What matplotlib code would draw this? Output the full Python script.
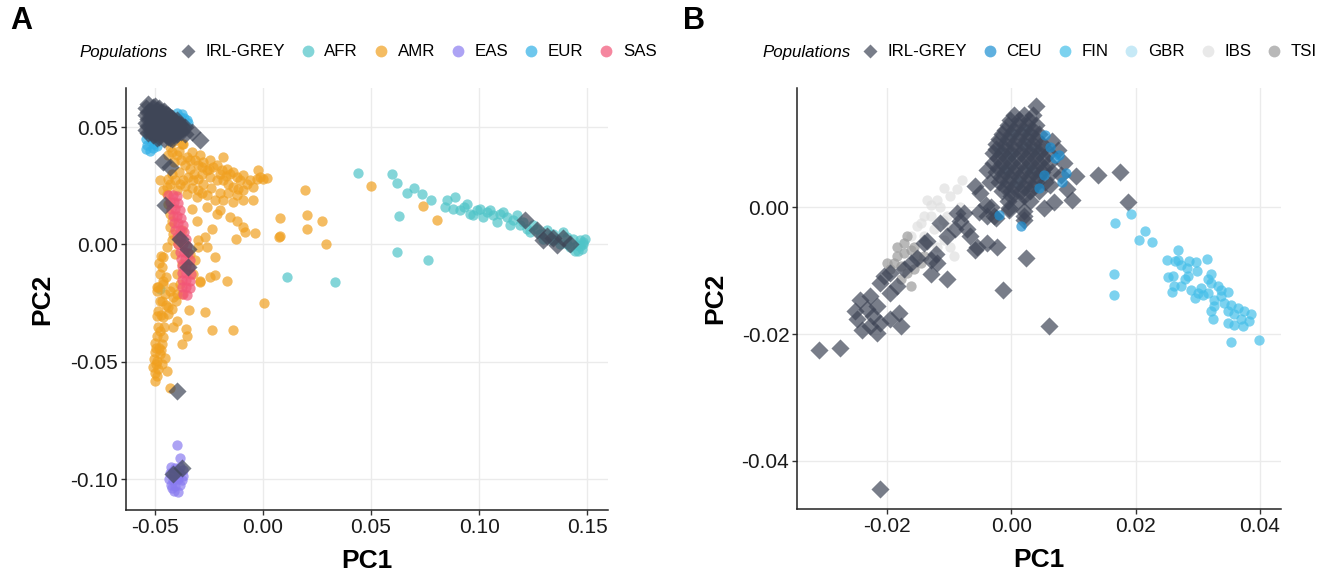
import numpy as np
import matplotlib
matplotlib.use("Agg")
import matplotlib.pyplot as plt
from matplotlib.lines import Line2D

plt.rcParams['font.family'] = ['Liberation Sans', 'DejaVu Sans']
plt.rcParams['axes.unicode_minus'] = False

# ---- panel A: 1000 Genomes super-populations ----
a_afr = [(0.0440, 0.0305), (0.0596, 0.0299), (0.0620, 0.0260), (0.0665, 0.0221), (0.0700, 0.0242),
         (0.0738, 0.0217), (0.0778, 0.0188), (0.0630, 0.0121), (0.0622, -0.0030), (0.0765, -0.0065),
         (0.0113, -0.0140), (0.0333, -0.0161), (-0.0477, -0.0188),
         (0.0850, 0.0188), (0.0888, 0.0202), (0.0843, 0.0160), (0.0881, 0.0153), (0.0912, 0.0145),
         (0.0943, 0.0174), (0.0974, 0.0124), (0.1004, 0.0153), (0.1035, 0.0138), (0.1066, 0.0124),
         (0.1097, 0.0131), (0.1082, 0.0095), (0.1128, 0.0117), (0.1159, 0.0103), (0.1143, 0.0081),
         (0.1190, 0.0081), (0.1220, 0.0067), (0.1251, 0.0081), (0.1282, 0.0046), (0.1313, 0.0060),
         (0.1344, 0.0046), (0.1390, 0.0053), (0.1406, 0.0031), (0.1437, 0.0024), (0.1468, 0.0017),
         (0.1483, 0.0003), (0.1476, -0.0019), (0.1452, -0.0003), (0.1421, -0.0011), (0.1375, 0.0003),
         (0.1336, 0.0017), (0.1298, 0.0024), (0.1491, 0.0024), (0.1460, -0.0026), (0.1020, 0.0117),
         (0.1051, 0.0145), (0.1113, 0.0138), (0.0989, 0.0145), (0.0958, 0.0131), (0.0928, 0.0160),
         (0.1174, 0.0124), (0.1205, 0.0095), (0.1236, 0.0053), (0.1267, 0.0067), (0.1359, 0.0024),
         (0.1445, -0.0026), (0.1406, 0.0003), (0.1480, 0.0010), (0.1465, -0.0005)]

a_amr = [(-0.0431, 0.0416), (-0.0423, 0.0395), (-0.0369, 0.0430), (-0.0353, 0.0373), (-0.0330, 0.0395),
         (-0.0315, 0.0359), (-0.0292, 0.0380), (-0.0276, 0.0352), (-0.0245, 0.0359), (-0.0230, 0.0330),
         (-0.0261, 0.0316), (-0.0214, 0.0338), (-0.0184, 0.0373), (-0.0191, 0.0316), (-0.0168, 0.0323),
         (-0.0153, 0.0302), (-0.0137, 0.0309), (-0.0122, 0.0288), (-0.0106, 0.0274), (-0.0091, 0.0295),
         (-0.0075, 0.0259), (-0.0060, 0.0274), (-0.0045, 0.0245), (-0.0029, 0.0281), (-0.0014, 0.0288),
         (0.0002, 0.0281), (0.0017, 0.0285), (-0.0022, 0.0316), (-0.0245, 0.0288), (-0.0214, 0.0274),
         (-0.0184, 0.0274), (-0.0161, 0.0259), (-0.0137, 0.0245), (-0.0114, 0.0238), (-0.0091, 0.0231),
         (-0.0276, 0.0259), (-0.0299, 0.0231), (-0.0322, 0.0274), (-0.0346, 0.0288), (-0.0369, 0.0274),
         (-0.0384, 0.0259), (-0.0407, 0.0274), (-0.0431, 0.0259), (-0.0446, 0.0245), (-0.0400, 0.0231),
         (-0.0353, 0.0216), (-0.0307, 0.0202), (-0.0261, 0.0209), (-0.0222, 0.0188), (-0.0184, 0.0188),
         (-0.0137, 0.0181), (-0.0091, 0.0188), (-0.0045, 0.0188), (-0.0261, 0.0159), (-0.0199, 0.0145),
         (-0.0153, 0.0117), (-0.0122, 0.0102), (-0.0091, 0.0074), (-0.0083, 0.0053), (-0.0037, 0.0048),
         (-0.0214, 0.0131), (-0.0330, 0.0152), (-0.0307, 0.0102), (-0.0238, 0.0067), (-0.0268, 0.0031),
         (-0.0299, 0.0017), (-0.0261, -0.0011), (-0.0222, -0.0054), (-0.0299, -0.0011), (-0.0315, -0.0068),
         (-0.0338, -0.0040), (-0.0322, -0.0125), (-0.0292, -0.0154), (-0.0245, -0.0140), (-0.0222, -0.0132),
         (-0.0165, -0.0157), (0.0079, 0.0112), (0.0202, 0.0124), (0.0202, 0.0067), (0.0275, 0.0102),
         (0.0290, 0.0003), (0.0076, 0.0034), (0.0194, 0.0234), (0.0500, 0.0248), (0.0005, -0.0251),
         (-0.0125, 0.0023), (0.0742, 0.0162), (0.0807, 0.0105), (0.0079, 0.0038), (-0.0376, 0.0430),
         (-0.0400, 0.0380), (-0.0380, 0.0360), (-0.0360, 0.0340), (-0.0340, 0.0320), (-0.0320, 0.0300),
         (-0.0300, 0.0280), (-0.0280, 0.0300), (-0.0300, 0.0340), (-0.0340, 0.0360), (-0.0280, 0.0330),
         (-0.0250, 0.0320), (-0.0200, 0.0300), (-0.0170, 0.0290), (-0.0410, 0.0350), (-0.0390, 0.0310),
         (-0.0420, 0.0300), (-0.0440, 0.0280), (-0.0360, 0.0250), (-0.0330, 0.0240), (-0.0280, 0.0220),
         (-0.0240, 0.0240), (-0.0200, 0.0220), (-0.0160, 0.0220), (-0.0120, 0.0210), (-0.0440, 0.0380),
         (-0.0410, 0.0440), (-0.0390, 0.0400),
         (-0.0477, 0.0274), (-0.0461, 0.0231), (-0.0446, 0.0216), (-0.0438, 0.0174), (-0.0431, 0.0131),
         (-0.0423, 0.0102), (-0.0431, 0.0074), (-0.0415, 0.0046), (-0.0423, 0.0017), (-0.0446, -0.0011),
         (-0.0461, -0.0054), (-0.0469, -0.0097), (-0.0477, -0.0125), (-0.0461, -0.0154), (-0.0484, -0.0182),
         (-0.0454, -0.0211), (-0.0477, -0.0239), (-0.0438, -0.0268), (-0.0400, -0.0211), (-0.0384, -0.0168),
         (-0.0415, -0.0182), (-0.0400, -0.0125), (-0.0376, -0.0082), (-0.0407, -0.0040), (-0.0392, 0.0003),
         (-0.0376, 0.0060), (-0.0492, -0.0182), (-0.0461, -0.0168), (-0.0431, -0.0197), (-0.0415, -0.0225),
         (-0.0469, -0.0239), (-0.0484, -0.0282), (-0.0461, -0.0311), (-0.0492, -0.0304), (-0.0438, -0.0296),
         (-0.0423, -0.0275), (-0.0400, -0.0325), (-0.0415, -0.0353), (-0.0477, -0.0368), (-0.0461, -0.0396),
         (-0.0492, -0.0389), (-0.0469, -0.0425), (-0.0500, -0.0460), (-0.0477, -0.0467), (-0.0492, -0.0496),
         (-0.0508, -0.0524), (-0.0484, -0.0531), (-0.0469, -0.0510), (-0.0454, -0.0482), (-0.0446, -0.0539),
         (-0.0500, -0.0581), (-0.0431, -0.0610), (-0.0357, -0.0360), (-0.0353, -0.0389), (-0.0376, -0.0425),
         (-0.0238, -0.0365), (-0.0137, -0.0363), (-0.0268, -0.0289), (-0.0342, -0.0279), (-0.0403, -0.0239),
         (-0.0376, -0.0211), (-0.0292, -0.0161), (-0.0495, -0.0440), (-0.0485, -0.0350), (-0.0500, -0.0550),
         (-0.0470, -0.0050), (-0.0480, -0.0080), (-0.0450, -0.0140), (-0.0490, -0.0200), (-0.0470, -0.0300),
         (-0.0500, -0.0420), (-0.0480, -0.0440), (-0.0505, -0.0490), (-0.0495, -0.0510), (-0.0490, -0.0560),
         (-0.0470, -0.0450), (-0.0460, -0.0350), (-0.0450, -0.0260)]

a_eas = [(-0.0400, -0.0855), (-0.0384, -0.0909), (-0.0425, -0.0950), (-0.0405, -0.0955), (-0.0385, -0.0950),
         (-0.0370, -0.0960), (-0.0430, -0.0975), (-0.0410, -0.0980), (-0.0390, -0.0975), (-0.0370, -0.0985),
         (-0.0435, -0.1000), (-0.0415, -0.1005), (-0.0395, -0.1000), (-0.0375, -0.1005), (-0.0425, -0.1025),
         (-0.0405, -0.1030), (-0.0385, -0.1025), (-0.0410, -0.1050), (-0.0395, -0.1055), (-0.0415, -0.0965),
         (-0.0395, -0.0990), (-0.0420, -0.1040)]

a_eur = [(-0.0540, 0.0405), (-0.0525, 0.0400), (-0.0510, 0.0410), (-0.0535, 0.0425), (-0.0520, 0.0440),
         (-0.0540, 0.0450), (-0.0505, 0.0430), (-0.0490, 0.0420), (-0.0530, 0.0465), (-0.0495, 0.0445),
         (-0.0385, 0.0545), (-0.0365, 0.0540), (-0.0350, 0.0530), (-0.0375, 0.0555), (-0.0400, 0.0560),
         (-0.0345, 0.0520), (-0.0500, 0.0550), (-0.0460, 0.0500), (-0.0440, 0.0530), (-0.0480, 0.0500),
         (-0.0420, 0.0490)]

a_sas = [(-0.0438, 0.0210), (-0.0418, 0.0210), (-0.0398, 0.0205), (-0.0432, 0.0180), (-0.0412, 0.0180),
         (-0.0392, 0.0175), (-0.0425, 0.0150), (-0.0405, 0.0150), (-0.0385, 0.0145), (-0.0418, 0.0120),
         (-0.0398, 0.0120), (-0.0378, 0.0115), (-0.0412, 0.0090), (-0.0392, 0.0090), (-0.0372, 0.0085),
         (-0.0405, 0.0060), (-0.0385, 0.0060), (-0.0365, 0.0055), (-0.0398, 0.0030), (-0.0378, 0.0030),
         (-0.0358, 0.0025), (-0.0392, 0.0000), (-0.0372, 0.0000), (-0.0352, -0.0005), (-0.0385, -0.0030),
         (-0.0365, -0.0030), (-0.0345, -0.0035), (-0.0380, -0.0060), (-0.0360, -0.0060), (-0.0340, -0.0065),
         (-0.0377, -0.0090), (-0.0357, -0.0090), (-0.0337, -0.0095), (-0.0375, -0.0120), (-0.0355, -0.0120),
         (-0.0335, -0.0125), (-0.0375, -0.0150), (-0.0355, -0.0150), (-0.0337, -0.0155), (-0.0375, -0.0180),
         (-0.0357, -0.0180), (-0.0340, -0.0185), (-0.0370, -0.0210), (-0.0352, -0.0215)]

a_irl = [(-0.054, 0.058), (-0.054, 0.055), (-0.054, 0.052), (-0.054, 0.049), (-0.053, 0.060),
         (-0.052, 0.057), (-0.052, 0.054), (-0.052, 0.051), (-0.052, 0.048), (-0.050, 0.059),
         (-0.050, 0.056), (-0.050, 0.053), (-0.050, 0.050), (-0.050, 0.047), (-0.048, 0.058),
         (-0.048, 0.055), (-0.048, 0.052), (-0.048, 0.049), (-0.048, 0.046), (-0.046, 0.057),
         (-0.046, 0.054), (-0.046, 0.051), (-0.046, 0.048), (-0.046, 0.045), (-0.044, 0.055),
         (-0.044, 0.052), (-0.044, 0.049), (-0.044, 0.046), (-0.042, 0.054), (-0.042, 0.051),
         (-0.042, 0.048), (-0.042, 0.045), (-0.040, 0.053), (-0.040, 0.050), (-0.040, 0.047),
         (-0.038, 0.051), (-0.038, 0.048), (-0.036, 0.050), (-0.036, 0.047),
         (-0.053, 0.0565), (-0.053, 0.0535), (-0.053, 0.0505), (-0.053, 0.0475), (-0.051, 0.0585),
         (-0.051, 0.0555), (-0.051, 0.0525), (-0.051, 0.0495), (-0.051, 0.0465), (-0.049, 0.0575),
         (-0.049, 0.0545), (-0.049, 0.0515), (-0.049, 0.0485), (-0.049, 0.0455), (-0.047, 0.0565),
         (-0.047, 0.0535), (-0.047, 0.0505), (-0.047, 0.0475), (-0.045, 0.0555), (-0.045, 0.0525),
         (-0.045, 0.0495), (-0.045, 0.0465), (-0.043, 0.0545), (-0.043, 0.0515), (-0.043, 0.0485),
         (-0.043, 0.0455), (-0.041, 0.0525), (-0.041, 0.0495), (-0.041, 0.0465), (-0.039, 0.0515),
         (-0.039, 0.0485), (-0.037, 0.0495),
         (-0.0330, 0.0480), (-0.0292, 0.0444), (-0.0462, 0.0352), (-0.0431, 0.0330), (-0.0454, 0.0167),
         (-0.0384, 0.0024), (-0.0346, -0.0018), (-0.0346, -0.0094), (-0.0400, -0.0624), (-0.0417, -0.0979),
         (-0.0375, -0.0953), (0.1213, 0.0103), (0.1267, 0.0060), (0.1297, 0.0017), (0.1313, 0.0038),
         (0.1343, 0.0026), (0.1360, -0.0004), (0.1390, 0.0026), (0.1420, 0.0004)]

# ---- panel B: European sub-populations ----
b_ceu = [(0.0077, 0.0083), (0.0053, 0.0051), (0.0082, 0.0040), (0.0088, 0.0054), (0.0015, -0.0029),
         (-0.0020, -0.0012), (0.0055, 0.0114), (0.0062, 0.0095), (0.0070, 0.0078), (0.0045, 0.0030)]

b_fin = [(0.0192, -0.0010), (0.0167, -0.0025), (0.0215, -0.0037), (0.0206, -0.0052), (0.0227, -0.0055),
         (0.0269, -0.0068), (0.0250, -0.0083), (0.0268, -0.0083), (0.0273, -0.0091), (0.0286, -0.0085),
         (0.0297, -0.0086), (0.0315, -0.0082), (0.0283, -0.0096), (0.0299, -0.0101), (0.0252, -0.0110),
         (0.0260, -0.0109), (0.0284, -0.0109), (0.0273, -0.0125), (0.0262, -0.0125), (0.0258, -0.0133),
         (0.0289, -0.0130), (0.0305, -0.0127), (0.0321, -0.0106), (0.0321, -0.0119), (0.0332, -0.0125),
         (0.0338, -0.0130), (0.0348, -0.0133), (0.0300, -0.0135), (0.0316, -0.0135), (0.0327, -0.0146),
         (0.0343, -0.0151), (0.0354, -0.0154), (0.0365, -0.0159), (0.0375, -0.0164), (0.0348, -0.0164),
         (0.0359, -0.0169), (0.0370, -0.0177), (0.0386, -0.0169), (0.0383, -0.0180), (0.0327, -0.0156),
         (0.0321, -0.0164), (0.0324, -0.0177), (0.0348, -0.0182), (0.0359, -0.0185), (0.0373, -0.0188),
         (0.0354, -0.0212), (0.0399, -0.0209), (0.0166, -0.0105), (0.0166, -0.0138), (0.0308, -0.0138),
         (0.0295, -0.0143), (0.0264, -0.0085), (0.0279, -0.0114), (0.0338, -0.0140), (0.0317, -0.0114)]

b_gbr = [(0.0000, 0.0080), (0.0020, 0.0100), (0.0030, 0.0060), (0.0010, 0.0040), (-0.0010, 0.0060),
         (0.0040, 0.0090), (0.0025, 0.0120), (0.0005, 0.0115), (0.0050, 0.0045), (-0.0020, 0.0090)]

b_ibs = [(-0.0079, 0.0043), (-0.0087, 0.0028), (-0.0109, 0.0030), (-0.0119, 0.0012), (-0.0130, 0.0004),
         (-0.0141, -0.0014), (-0.0114, 0.0001), (-0.0103, -0.0014), (-0.0152, -0.0030), (-0.0125, -0.0035),
         (-0.0109, -0.0051), (-0.0098, -0.0062), (-0.0093, -0.0077), (-0.0119, -0.0062), (-0.0141, -0.0046),
         (-0.0162, -0.0046), (-0.0082, 0.0001), (-0.0098, 0.0017), (-0.0130, -0.0014), (-0.0146, -0.0025),
         (-0.0135, 0.0012), (-0.0103, -0.0030), (-0.0110, -0.0020)]

b_tsi = [(-0.0168, -0.0046), (-0.0184, -0.0062), (-0.0173, -0.0072), (-0.0162, -0.0067), (-0.0152, -0.0077),
         (-0.0189, -0.0088), (-0.0200, -0.0088), (-0.0178, -0.0093), (-0.0168, -0.0104), (-0.0157, -0.0098),
         (-0.0146, -0.0088), (-0.0141, -0.0077), (-0.0162, -0.0125), (-0.0178, -0.0114), (-0.0173, -0.0056),
         (-0.0157, -0.0062), (-0.0184, -0.0077), (-0.0195, -0.0098)]

b_irl = [(0.0005, 0.0145), (0.0020, 0.0145), (0.0035, 0.0145),
         (-0.0005, 0.0130), (0.0010, 0.0130), (0.0025, 0.0130), (0.0040, 0.0130),
         (-0.0015, 0.0115), (0.0000, 0.0115), (0.0015, 0.0115), (0.0030, 0.0115), (0.0045, 0.0115),
         (-0.0025, 0.0100), (-0.0010, 0.0100), (0.0005, 0.0100), (0.0020, 0.0100), (0.0035, 0.0100), (0.0050, 0.0100),
         (-0.0030, 0.0085), (-0.0015, 0.0085), (0.0000, 0.0085), (0.0015, 0.0085), (0.0030, 0.0085),
         (0.0045, 0.0085), (0.0060, 0.0085),
         (-0.0030, 0.0070), (-0.0015, 0.0070), (0.0000, 0.0070), (0.0015, 0.0070), (0.0030, 0.0070),
         (0.0045, 0.0070), (0.0060, 0.0070),
         (-0.0025, 0.0055), (-0.0010, 0.0055), (0.0005, 0.0055), (0.0020, 0.0055), (0.0035, 0.0055),
         (0.0050, 0.0055), (0.0065, 0.0055),
         (-0.0020, 0.0040), (-0.0005, 0.0040), (0.0010, 0.0040), (0.0025, 0.0040), (0.0040, 0.0040), (0.0055, 0.0040),
         (-0.0015, 0.0025), (0.0000, 0.0025), (0.0015, 0.0025), (0.0030, 0.0025), (0.0045, 0.0025),
         (-0.0005, 0.0010), (0.0010, 0.0010), (0.0030, 0.0010),
         (-0.0002, 0.0137), (0.0013, 0.0137), (0.0028, 0.0137),
         (-0.0010, 0.0122), (0.0005, 0.0122), (0.0020, 0.0122), (0.0035, 0.0122),
         (-0.0020, 0.0107), (-0.0005, 0.0107), (0.0010, 0.0107), (0.0025, 0.0107), (0.0040, 0.0107),
         (-0.0025, 0.0092), (-0.0010, 0.0092), (0.0005, 0.0092), (0.0020, 0.0092), (0.0035, 0.0092), (0.0050, 0.0092),
         (-0.0022, 0.0077), (-0.0007, 0.0077), (0.0008, 0.0077), (0.0023, 0.0077), (0.0038, 0.0077), (0.0053, 0.0077),
         (-0.0022, 0.0062), (-0.0007, 0.0062), (0.0008, 0.0062), (0.0023, 0.0062), (0.0038, 0.0062), (0.0053, 0.0062),
         (-0.0017, 0.0047), (-0.0002, 0.0047), (0.0013, 0.0047), (0.0028, 0.0047), (0.0043, 0.0047),
         (-0.0010, 0.0032), (0.0005, 0.0032), (0.0020, 0.0032), (0.0035, 0.0032),
         (0.0000, 0.0017), (0.0020, 0.0017),
         (0.0039, 0.0160), (0.0104, 0.0050), (0.0139, 0.0051), (0.0175, 0.0056), (0.0187, 0.0008),
         (0.0098, 0.0012), (0.0090, 0.0028), (0.0069, 0.0009), (0.0053, -0.0001), (-0.0004, -0.0004),
         (0.0020, -0.0006), (0.0020, -0.0020), (-0.0025, -0.0017), (0.0085, 0.0070), (0.0080, 0.0051),
         (0.0063, 0.0035), (0.0075, 0.0090), (0.0065, 0.0105), (-0.0035, 0.0040),
         (-0.0058, 0.0033), (-0.0039, 0.0059), (-0.0050, 0.0022), (-0.0033, 0.0001), (-0.0052, -0.0007),
         (-0.0039, -0.0014), (-0.0028, -0.0014), (-0.0076, -0.0009), (-0.0087, -0.0009), (-0.0082, -0.0022),
         (-0.0090, -0.0035), (-0.0114, -0.0025), (-0.0103, -0.0046), (-0.0066, -0.0046), (-0.0055, -0.0062),
         (-0.0039, -0.0056), (-0.0023, -0.0062), (-0.0058, -0.0067), (-0.0135, -0.0054), (-0.0130, -0.0083),
         (-0.0119, -0.0088), (-0.0103, -0.0114), (-0.0130, -0.0106), (-0.0162, -0.0088), (-0.0173, -0.0098),
         (-0.0195, -0.0104), (-0.0205, -0.0109), (-0.0211, -0.0119), (-0.0184, -0.0125), (-0.0195, -0.0135),
         (-0.0227, -0.0140), (-0.0243, -0.0146), (-0.0251, -0.0164), (-0.0232, -0.0161), (-0.0216, -0.0156),
         (-0.0222, -0.0172), (-0.0248, -0.0177), (-0.0240, -0.0193), (-0.0227, -0.0188), (-0.0211, -0.0182),
         (-0.0195, -0.0177), (-0.0181, -0.0167), (-0.0178, -0.0188), (-0.0216, -0.0198), (-0.0275, -0.0222),
         (-0.0310, -0.0225), (-0.0141, -0.0056), (-0.0152, -0.0080), (-0.0122, -0.0073), (-0.0071, -0.0035),
         (-0.0041, 0.0004), (-0.0004, -0.0001), (0.0020, -0.0014), (0.0024, -0.0080), (-0.0013, -0.0131),
         (0.0061, -0.0187), (-0.0211, -0.0445)]

colors_a = {'IRL-GREY': '#3f4657', 'AFR': '#4fc4c8', 'AMR': '#f0a020', 'EAS': '#8a7cf0',
            'EUR': '#31b0e6', 'SAS': '#f25577'}
colors_b = {'IRL-GREY': '#3f4657', 'CEU': '#1b8fd2', 'FIN': '#45bfe9', 'GBR': '#aee0f3',
            'IBS': '#e0e0e0', 'TSI': '#9a9a9a'}

fig = plt.figure(figsize=(13.32, 5.81), dpi=100)
axA = fig.add_axes([0.0946, 0.1222, 0.3619, 0.7263])
axB = fig.add_axes([0.5983, 0.1239, 0.3634, 0.7246])


def style(ax, xlim, ylim, xticks, yticks):
    ax.set_xlim(*xlim)
    ax.set_ylim(*ylim)
    ax.set_xticks(xticks)
    ax.set_yticks(yticks)
    ax.set_xticklabels(['%.2f' % t for t in xticks])
    ax.set_yticklabels(['%.2f' % t for t in yticks])
    for s in ['top', 'right']:
        ax.spines[s].set_visible(False)
    for s in ['left', 'bottom']:
        ax.spines[s].set_linewidth(1.1)
        ax.spines[s].set_color('#222222')
    ax.grid(True, color='#ebebeb', lw=1.0)
    ax.set_axisbelow(True)
    ax.tick_params(length=3.5, width=1, color='#333333', labelsize=15, labelcolor='#1a1a1a', pad=2)
    ax.set_xlabel('PC1', fontsize=19, fontweight='bold')
    ax.set_ylabel('PC2', fontsize=19, fontweight='bold')
    ax.xaxis.set_label_coords(0.5, -0.093)


def scat(ax, pts, color, marker='o', size=55, alpha=0.7):
    pts = np.array(pts)
    ax.scatter(pts[:, 0], pts[:, 1], s=size, c=color, marker=marker, alpha=alpha, linewidths=0)


# panel A
for name, pts in [('AFR', a_afr), ('AMR', a_amr), ('EAS', a_eas), ('EUR', a_eur), ('SAS', a_sas)]:
    scat(axA, pts, colors_a[name])
scat(axA, a_irl, colors_a['IRL-GREY'], marker='D', size=85)
style(axA, (-0.0634, 0.1597), (-0.1132, 0.0667), [-0.05, 0.0, 0.05, 0.10, 0.15], [-0.10, -0.05, 0.0, 0.05])
axA.yaxis.set_label_coords(-0.149, 0.5)

# panel B
for name, pts in [('GBR', b_gbr), ('IBS', b_ibs), ('TSI', b_tsi)]:
    scat(axB, pts, colors_b[name])
scat(axB, b_irl, colors_b['IRL-GREY'], marker='D', size=85)
scat(axB, b_ceu, colors_b['CEU'])
scat(axB, b_fin, colors_b['FIN'])
style(axB, (-0.0345, 0.0434), (-0.0476, 0.0188), [-0.02, 0.0, 0.02, 0.04], [-0.04, -0.02, 0.0])
axB.yaxis.set_label_coords(-0.144, 0.5)

# panel letters
fig.text(10 / 1332, 1 - 21 / 581, 'A', fontsize=22, fontweight='bold', va='center')
fig.text(683 / 1332, 1 - 21 / 581, 'B', fontsize=22, fontweight='bold', va='center')


def make_legend(colors, text_x, handle_x):
    handles = []
    for name, c in colors.items():
        if name == 'IRL-GREY':
            h = Line2D([], [], ls='', marker='D', ms=7.5, mfc=c, mec='none', alpha=0.7)
        else:
            h = Line2D([], [], ls='', marker='o', ms=8.5, mfc=c, mec='none', alpha=0.7)
        handles.append(h)
    fig.text(text_x / 1332, 1 - 52 / 581, 'Populations', fontsize=12.2, style='italic', va='center')
    fig.legend(handles, list(colors.keys()), loc='center left', ncol=6, frameon=False,
               bbox_to_anchor=(handle_x / 1332, 1 - 52 / 581), borderpad=0, borderaxespad=0,
               handlelength=1.0, handletextpad=0.48, columnspacing=0.86, fontsize=12.2)


make_legend(colors_a, 79, 180)
make_legend(colors_b, 762, 862)

fig.savefig('out.png', dpi=100)
